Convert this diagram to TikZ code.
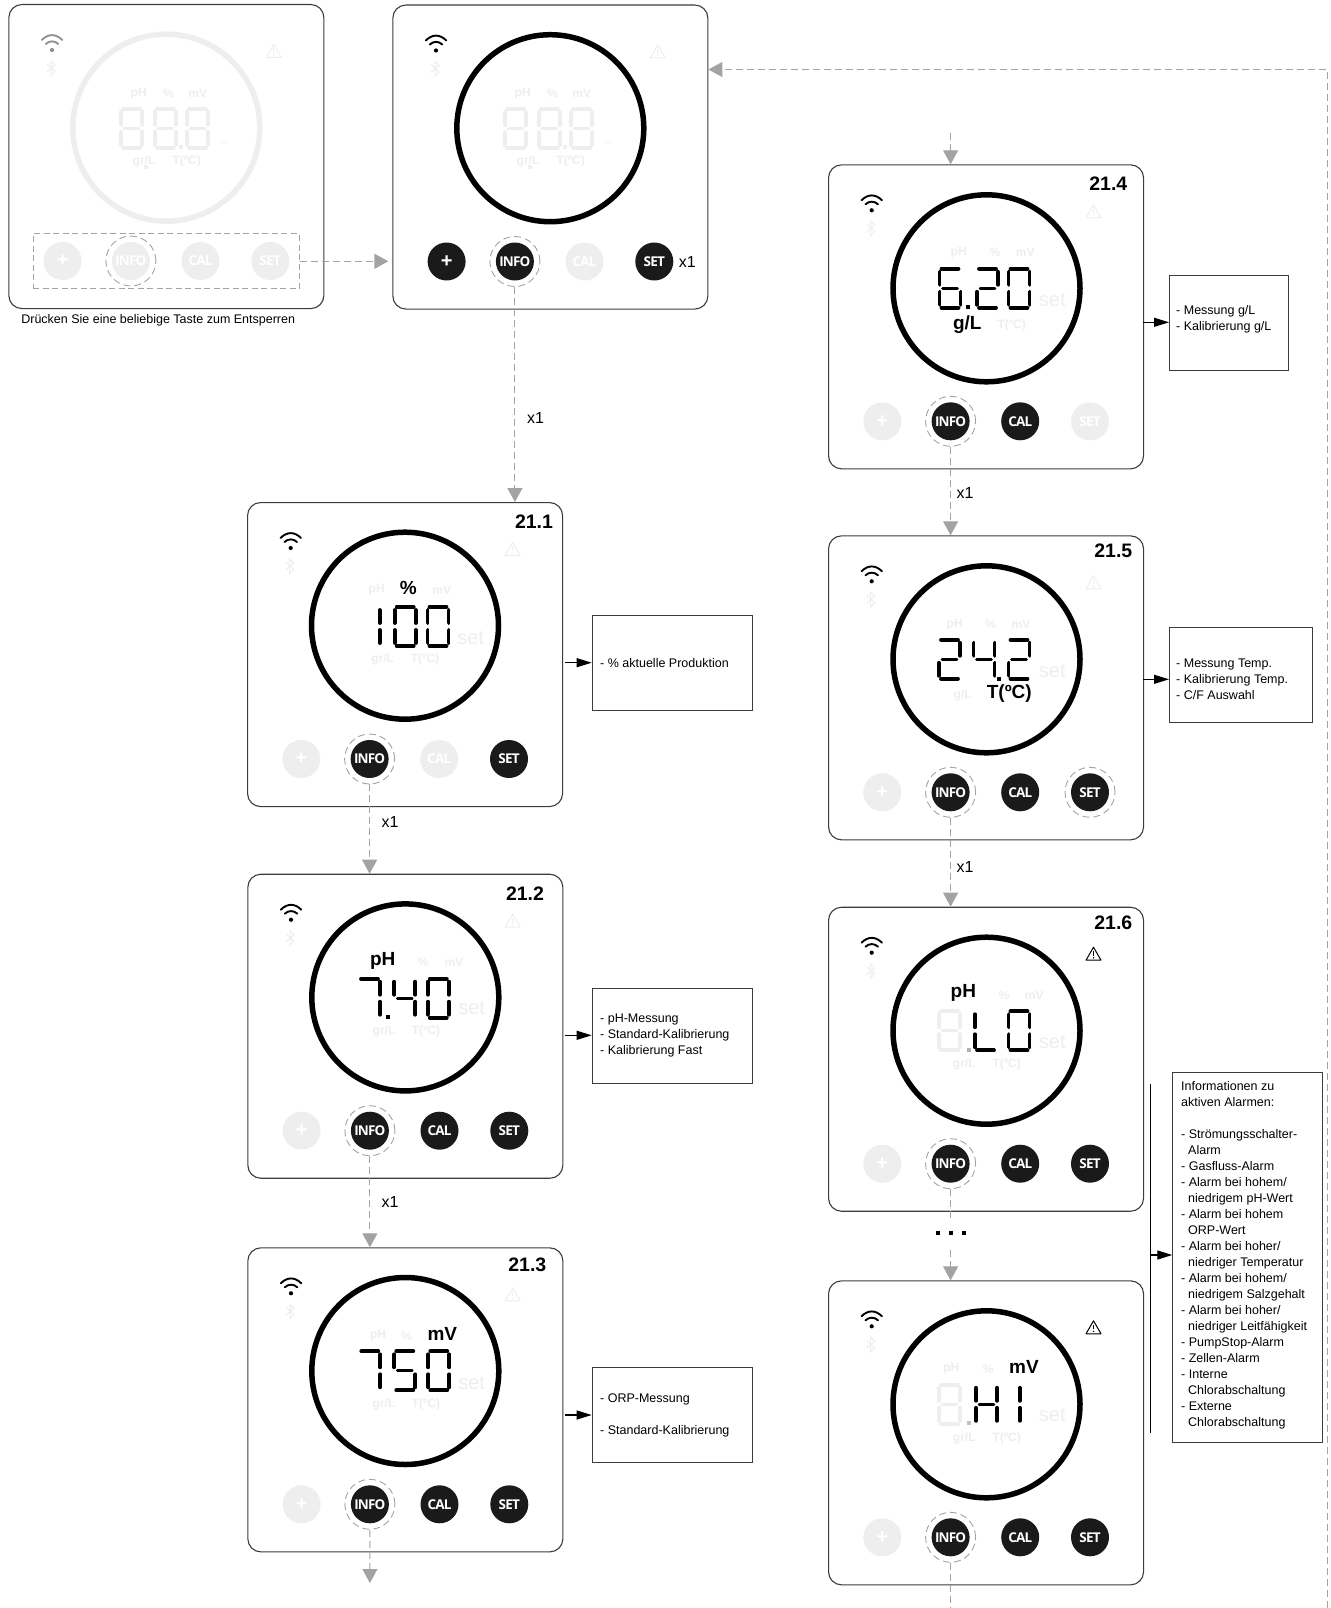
\documentclass[tikz,border=0pt]{standalone}
\usepackage{fontspec}
\usetikzlibrary{arrows.meta,shapes.geometric}
\setmainfont{Liberation Sans}
\newfontfamily\btnfont[LetterSpace=-6]{Open Sans}
\definecolor{ghost}{HTML}{EEEEEE}
\definecolor{btnblack}{HTML}{1A1A1A}
\definecolor{flowgray}{HTML}{A3A3A3}
\definecolor{frameedge}{HTML}{3C3C3C}
\newcount\autonode
\tikzset{
  x=1pt,y=-1pt,
  framebox/.style={draw=frameedge,line width=1.1pt,rounded corners=13pt,fill=white,minimum width=315pt,minimum height=304pt,inner sep=0pt,anchor=north west},
  dial/.style={circle,draw=black,line width=5.5pt,minimum size=187pt,inner sep=0pt},
  ghostdial/.style={dial,draw=ghost},
  keyon/.style={circle,fill=btnblack,text=white,minimum size=38pt,inner sep=0pt,font=\btnfont\bfseries\fontsize{13.5}{14}\selectfont},
  keyoff/.style={keyon,fill=ghost},
  plusfont/.style={font=\bfseries\fontsize{20}{20}\selectfont},
  ringmark/.style={circle,draw=flowgray,line width=.9pt,dash pattern=on 7pt off 4pt,minimum size=50pt,inner sep=0pt},
  seg/.style={line width=3.8pt,line cap=round},
  wifi/.style={line width=1.9pt,line cap=round},
  lab/.style={inner sep=0pt,font=\bfseries\fontsize{12}{12}\selectfont,text=ghost},
  labon/.style={inner sep=0pt,font=\bfseries\fontsize{19}{19}\selectfont,text=black},
  setlab/.style={inner sep=0pt,font=\fontsize{20}{20}\selectfont,text=ghost},
  setsmall/.style={inner sep=0pt,font=\fontsize{6}{6}\selectfont,text=ghost},
  titlelab/.style={inner sep=0pt,font=\bfseries\fontsize{19.5}{19.5}\selectfont,text=black},
  note/.style={draw=frameedge,line width=1.1pt,inner sep=0pt,anchor=north west,fill=white},
  notetext/.style={inner sep=0pt,anchor=west,align=left,font=\fontsize{12.5}{16}\selectfont},
  flow/.style={draw=flowgray,line width=1pt,dash pattern=on 7pt off 4pt,-{Triangle[width=15pt,length=14pt,fill=flowgray,sep=0pt]}},
  flowplain/.style={draw=flowgray,line width=1pt,dash pattern=on 7pt off 4pt},
  outarrow/.style={draw=black,line width=1.1pt,-{Triangle[width=9pt,length=15pt]}},
  countlab/.style={inner sep=0pt,font=\fontsize{16}{16}\selectfont},
}
% labels with automatic names
\newcommand{\Lab}[4][lab]{\global\advance\autonode by 1 \node[#1] (t\the\autonode) at (#2,#3) {#4};}
% seven segment digit
\newcommand{\segA}{\draw[seg] (4,2)--(21,2);}
\newcommand{\segB}{\draw[seg] (23,5)--(23,18);}
\newcommand{\segC}{\draw[seg] (23,25)--(23,38);}
\newcommand{\segD}{\draw[seg] (4,41)--(21,41);}
\newcommand{\segE}{\draw[seg] (2,25)--(2,38);}
\newcommand{\segF}{\draw[seg] (2,5)--(2,18);}
\newcommand{\segG}{\draw[seg,line width=2.8pt] (5,21.5)--(20,21.5);}
\newcommand{\Dig}[4]{\begin{scope}[shift={(#1,#2)},draw=#4]\foreach \s in {#3}{\csname seg\s\endcsname}\end{scope}}
\newcommand{\Dot}[3]{\fill[#3] ({#1-2},{#2-2}) rectangle ({#1+2},{#2+2});}
\newcommand{\Icons}[3]{% wifi colour, warning colour
  \draw[wifi,draw=#1] (33.5,36) .. controls (40,29.5) and (47.5,29.5) .. (54,36);
  \draw[wifi,draw=#1] (37.5,40) .. controls (41,36.5) and (46.5,36.5) .. (50,40);
  \fill[#1] (43.7,46) circle (2.1pt);
  \draw[draw=ghost,line width=1pt] (38.7,60)--(46.7,67.5)--(42.7,71.5)--(42.7,57)--(46.7,61)--(38.7,68);
  \draw[draw=#2,line width=1pt,line join=round,fill=white] (265.5,40.5)--(273,53.5)--(258,53.5)--cycle;
  \draw[draw=#2,line width=1.2pt] (265.5,44.5)--(265.5,49);
  \fill[#2] (265.5,51.1) circle (.8pt);
}
\newcommand{\Plate}[1]{\node[framebox] (#1box) at (0,0) {};}
\newcommand{\Keys}[5]{% name, then style of + info cal set
  \node[#2,plusfont] (#1plus) at (54.3,257) {+};
  \node[#3] (#1info) at (122.6,257) {INFO};
  \node[#4] (#1cal) at (192.2,257) {CAL};
  \node[#5] (#1set) at (262,257) {SET};
  \node[ringmark] (#1ring) at (122.6,257) {};
}
\begin{document}
\begin{tikzpicture}
\useasboundingbox (0,0) rectangle (1330,1608);
\fill[white] (0,0) rectangle (1330,1608);

% panel 0
\begin{scope}[shift={(8.3,4)}]
\Plate{pa}
\Icons{gray!85}{ghost}{}
\node[ghostdial] (padial) at (158,123.7) {};
\Lab{130.4}{89.3}{pH}\Lab{160}{89.3}{\%}\Lab{189.4}{89.3}{mV}
\Lab{135.7}{157.3}{gr/L}\Lab{178.4}{157.3}{T(ºC)}
\Lab[setsmall]{215.7}{138.3}{set}
\Dig{110.7}{102.7}{A,B,C,D,E,F,G}{ghost}\Dig{144.4}{102.7}{A,B,C,D,E,F,G}{ghost}\Dig{176.7}{102.7}{A,B,C,D,E,F,G}{ghost}
\Dot{172.5}{142.7}{ghost}\Dot{137.4}{162.7}{ghost}
\Keys{pa}{keyoff}{keyoff}{keyoff}{keyoff}
\node[pa ringoff/.style={},draw=none,fill=none,inner sep=0pt] (padashhelper) at (158,257) {};
\node[draw=flowgray,line width=1pt,dash pattern=on 6pt off 3.5pt,minimum width=265.7pt,minimum height=55pt,inner sep=0pt] (padash) at (158,257.3) {};
\end{scope}
\begin{scope}
% cover the ring that this panel does not show
\end{scope}

% panel 1
\begin{scope}[shift={(392.3,4.5)}]
\Plate{pb}
\Icons{black}{ghost}{}
\node[dial] (pbdial) at (158,123.7) {};
\Lab{130.4}{89.3}{pH}\Lab{160}{89.3}{\%}\Lab{189.4}{89.3}{mV}
\Lab{135.7}{157.3}{gr/L}\Lab{178.4}{157.3}{T(ºC)}
\Lab[setsmall]{215.7}{138.3}{set}
\Dig{110.7}{102.7}{A,B,C,D,E,F,G}{ghost}\Dig{144.4}{102.7}{A,B,C,D,E,F,G}{ghost}\Dig{176.7}{102.7}{A,B,C,D,E,F,G}{ghost}
\Dot{172.5}{142.7}{ghost}\Dot{137.4}{162.7}{ghost}
\Keys{pb}{keyon}{keyon}{keyoff}{keyon}
\Lab[countlab]{295}{257}{x1}
\end{scope}

% 21.1
\begin{scope}[shift={(247,502)}]
\Plate{pc}
\Icons{black}{ghost}{}
\node[dial] (pcdial) at (158,123.7) {};
\Lab[titlelab]{287}{20}{21.1}
\Lab{129.7}{88}{pH}\Lab[labon]{161.3}{86.3}{\%}\Lab{194.7}{88}{mV}
\Lab{135.7}{157.3}{gr/L}\Lab{178}{157.3}{T(ºC)}
\Lab[setlab]{223.7}{135.7}{set}
\Dig{109.7}{103}{B,C}{black}\Dig{145.7}{103}{A,B,C,D,E,F}{black}\Dig{178.5}{103}{A,B,C,D,E,F}{black}
\Keys{pc}{keyoff}{keyon}{keyoff}{keyon}
\end{scope}

% 21.2
\begin{scope}[shift={(247.3,873.7)}]
\Plate{pd}
\Icons{black}{ghost}{}
\node[dial] (pddial) at (158,123.7) {};
\Lab[titlelab]{277.7}{19.6}{21.2}
\Lab[labon]{135.4}{87.3}{pH}\Lab{176}{89}{\%}\Lab{206.7}{89}{mV}
\Lab{136.7}{158}{gr/L}\Lab{178.7}{158}{T(ºC)}
\Lab[setlab]{224.4}{134.6}{set}
\Dig{109.7}{103}{A,B,C}{black}\Dig{145}{103}{B,C,F,G}{black}\Dig{178.5}{103}{A,B,C,D,E,F}{black}
\Dot{141}{143}{black}
\Keys{pd}{keyoff}{keyon}{keyon}{keyon}
\end{scope}

% 21.3
\begin{scope}[shift={(247.3,1247.3)}]
\Plate{pe}
\Icons{black}{ghost}{}
\node[dial] (pedial) at (158,123.7) {};
\Lab[titlelab]{280}{17.7}{21.3}
\Lab{130.7}{88.7}{pH}\Lab{159.4}{88.7}{\%}\Lab[labon]{195}{87}{mV}
\Lab{136.7}{157}{gr/L}\Lab{178.7}{157}{T(ºC)}
\Lab[setlab]{224.4}{135.4}{set}
\Dig{110}{102}{A,B,C}{black}\Dig{145}{102}{A,C,D,F,G}{black}\Dig{179}{102}{A,B,C,D,E,F}{black}
\Keys{pe}{keyoff}{keyon}{keyon}{keyon}
\end{scope}

% 21.4
\begin{scope}[shift={(828,164.3)}]
\Plate{pf}
\Icons{black}{ghost}{}
\node[dial] (pfdial) at (158.5,124) {};
\Lab[titlelab]{280.3}{19}{21.4}
\Lab{130.7}{88.4}{pH}\Lab{167}{88.4}{\%}\Lab{197.3}{88.4}{mV}
\Lab[labon]{139.3}{160}{g/L}\Lab{183.7}{160.7}{T(ºC)}
\Lab[setlab]{224.3}{135.7}{set}
\Dig{109.5}{102.5}{A,C,D,E,F,G}{black}\Dig{147}{102.5}{A,B,D,E,G}{black}\Dig{178.5}{102.5}{A,B,C,D,E,F}{black}
\Dot{140}{142.4}{black}
\Keys{pf}{keyoff}{keyon}{keyon}{keyoff}
\end{scope}

% 21.5
\begin{scope}[shift={(828,535.3)}]
\Plate{pg}
\Icons{black}{ghost}{}
\node[dial] (pgdial) at (158.5,124) {};
\Lab[titlelab]{285.3}{15.4}{21.5}
\Lab{126.7}{89}{pH}\Lab{162.7}{89}{\%}\Lab{193}{89}{mV}
\Lab{134.7}{160.4}{g/L}\Lab[labon]{181.3}{158}{T(ºC)}
\Lab[setlab]{224.3}{135.7}{set}
\Dig{109}{102.5}{A,B,D,E,G}{black}\Dig{143.5}{102.5}{B,C,F,G}{black}\Dig{178.5}{102.5}{A,B,D,E,G}{black}
\Dot{171}{143.7}{black}
\Keys{pg}{keyoff}{keyon}{keyon}{keyon}
\node[ringmark] (pgsetring) at (262,257) {};
\end{scope}

% 21.6
\begin{scope}[shift={(828,906.7)}]
\Plate{ph}
\Icons{black}{black}{}
\node[dial] (phdial) at (158.5,124) {};
\Lab[titlelab]{285.3}{16}{21.6}
\Lab[labon]{135.3}{86.6}{pH}\Lab{176.3}{88.3}{\%}\Lab{206.3}{88.3}{mV}
\Lab{136.3}{157.6}{gr/L}\Lab{178.7}{157.6}{T(ºC)}
\Lab[setlab]{224.3}{135}{set}
\Dig{109}{102.5}{A,B,C,D,E,F,G}{ghost}\Dig{145}{102.5}{D,E,F}{black}\Dig{178.5}{102.5}{A,B,C,D,E,F}{black}
\Dot{141.3}{143.3}{gray!60}
\Keys{ph}{keyoff}{keyon}{keyon}{keyon}
\end{scope}

% last panel
\begin{scope}[shift={(828,1280.3)}]
\Plate{pj}
\Icons{black}{black}{}
\node[dial] (pjdial) at (158.5,124) {};
\Lab{123.3}{88.7}{pH}\Lab{160.3}{88.7}{\%}\Lab[labon]{196}{86.4}{mV}
\Lab{136.3}{158}{gr/L}\Lab{178.7}{158}{T(ºC)}
\Lab[setlab]{224.3}{134.7}{set}
\Dig{109}{102.5}{A,B,C,D,E,F,G}{ghost}\Dig{146}{102.5}{B,C,E,F,G}{black}\Dig{168.7}{102.5}{B,C}{black}
\Dot{141.3}{143}{ghost!60!gray}
\Keys{pj}{keyoff}{keyon}{keyon}{keyon}
\end{scope}

% caption
\Lab[inner sep=0pt,font=\fontsize{12.5}{14}\selectfont]{158.2}{320.7}{Drücken Sie eine beliebige Taste zum Entsperren}

% note boxes
\node[note,minimum width=160.6pt,minimum height=95pt] (na) at (591.7,615) {};
\node[notetext] (nat) at (600,662.7) {- \% aktuelle Produktion};
\node[note,minimum width=160.6pt,minimum height=95.5pt] (nb) at (591.7,987.5) {};
\node[notetext] (nbt) at (600,1035.5) {- pH-Messung\\- Standard-Kalibrierung\\- Kalibrierung Fast};
\node[note,minimum width=160.6pt,minimum height=95pt] (nc) at (591.7,1367) {};
\node[notetext] (nct) at (600,1415) {- ORP-Messung\\[16pt]- Standard-Kalibrierung};
\node[note,minimum width=119pt,minimum height=95.2pt] (nd) at (1169,274.8) {};
\node[notetext] (ndt) at (1176,319.5) {- Messung g/L\\- Kalibrierung g/L};
\node[note,minimum width=142.5pt,minimum height=95.5pt] (ne) at (1169,626.5) {};
\node[notetext] (net) at (1176,679) {- Messung Temp.\\- Kalibrierung Temp.\\- C/F Auswahl};
\node[note,minimum width=149.4pt,minimum height=369.4pt] (nf) at (1172.3,1072.3) {};
\node[notetext,anchor=north west] (nft) at (1181,1081) {Informationen zu\\aktiven Alarmen:\\[16pt]- Strömungsschalter-\\\hspace*{7pt}Alarm\\- Gasfluss-Alarm\\- Alarm bei hohem/\\\hspace*{7pt}niedrigem pH-Wert\\- Alarm bei hohem\\\hspace*{7pt}ORP-Wert\\- Alarm bei hoher/\\\hspace*{7pt}niedriger Temperatur\\- Alarm bei hohem/\\\hspace*{7pt}niedrigem Salzgehalt\\- Alarm bei hoher/\\\hspace*{7pt}niedriger Leitfähigkeit\\- PumpStop-Alarm\\- Zellen-Alarm\\- Interne\\\hspace*{7pt}Chlorabschaltung\\- Externe\\\hspace*{7pt}Chlorabschaltung};

% black outputs
\coordinate (oa) at (564.5,662.7);
\coordinate (ob) at (564.5,1035.3);
\coordinate (oc) at (564.5,1415);
\coordinate (od) at (1143,322.3);
\coordinate (oe) at (1143,679.3);
\coordinate (ofa) at (1150.7,1084);
\coordinate (ofb) at (1150.7,1433);
\coordinate (ofm) at (1150.7,1255);
\draw[outarrow] (oa) -- (oa -| na.west);
\draw[outarrow] (ob) -- (ob -| nb.west);
\draw[outarrow] (oc) -- (oc -| nc.west);
\draw[outarrow] (od) -- (od -| nd.west);
\draw[outarrow] (oe) -- (oe -| ne.west);
\draw[draw=black,line width=1.1pt] (ofa) -- (ofb);
\draw[outarrow] (ofm) -- (ofm -| nf.west);

% grey flow
\coordinate (ptop) at (950.6,133.5);
\coordinate (dotsup) at (950.6,1221);
\coordinate (dotsdown) at (950.6,1250);
\coordinate (pend) at (369.9,1583);
\coordinate (pjout) at (950.6,1608);
\coordinate (loopb) at (1327.4,1608);
\coordinate (loopt) at (1327.4,69.5);
\draw[flow,line width=1.4pt,shorten >=4pt] (padash.east) -- (padash.east -| pbbox.west);
\draw[flow] (pbring.south) -- (pbring.south |- pcbox.north);
\draw[flow] (pcring.south) -- (pcring.south |- pdbox.north);
\draw[flow] (pdring.south) -- (pdring.south |- pebox.north);
\draw[flow] (pering.south) -- (pend);
\draw[flow] (ptop) -- (ptop |- pfbox.north);
\draw[flow] (pfring.south) -- (pfring.south |- pgbox.north);
\draw[flow] (pgring.south) -- (pgring.south |- phbox.north);
\draw[flowplain] (phring.south) -- (dotsup);
\fill[black] (936,1231.3) rectangle (940,1235.3);
\fill[black] (949,1231.3) rectangle (953,1235.3);
\fill[black] (962,1231.3) rectangle (966,1235.3);
\draw[flow] (dotsdown) -- (dotsdown |- pjbox.north);
\draw[flowplain] (pjring.south) -- (pjout);
\draw[flow,line width=1.2pt] (loopb) -- (loopt) -- (loopt -| pbbox.east);

% counts on the flow
\Lab[countlab]{535.5}{417.5}{x1}
\Lab[countlab]{390}{821.5}{x1}
\Lab[countlab]{390}{1202}{x1}
\Lab[countlab]{965}{492.5}{x1}
\Lab[countlab]{965}{866.5}{x1}
\end{tikzpicture}
\end{document}
